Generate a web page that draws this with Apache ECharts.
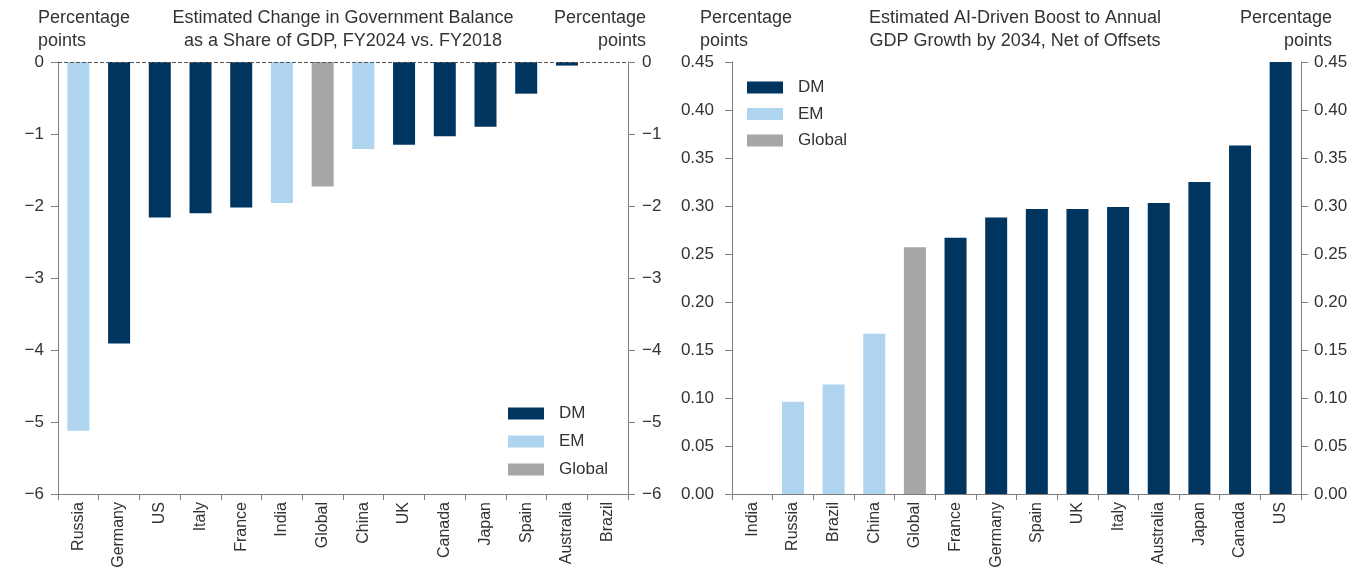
<!DOCTYPE html>
<html>
<head>
<meta charset="utf-8">
<script src="https://cdn.jsdelivr.net/npm/echarts@6/dist/echarts.min.js"></script>
<style>
html,body{margin:0;padding:0;background:#fff;}
#chart{width:1361px;height:579px;}
</style>
</head>
<body>
<div id="chart"></div>
<script>
// ---- Data ----
const leftCategories = ['Russia','Germany','US','Italy','France','India','Global','China','UK','Canada','Japan','Spain','Australia','Brazil'];
const leftValues     = [-5.12, -3.91, -2.16, -2.10, -2.02, -1.96, -1.73, -1.21, -1.15, -1.03, -0.90, -0.44, -0.05, 0];
const leftGroups     = ['EM','DM','DM','DM','DM','EM','Global','EM','DM','DM','DM','DM','DM','EM'];
const leftTicks      = [-6, -5, -4, -3, -2, -1, 0];

const rightCategories = ['India','Russia','Brazil','China','Global','France','Germany','Spain','UK','Italy','Australia','Japan','Canada','US'];
const rightValues     = [0, 0.096, 0.114, 0.167, 0.257, 0.267, 0.288, 0.297, 0.297, 0.299, 0.303, 0.325, 0.363, 0.45];
const rightGroups     = ['EM','EM','EM','EM','Global','DM','DM','DM','DM','DM','DM','DM','DM','DM'];
const rightTicks      = [0, 0.05, 0.10, 0.15, 0.20, 0.25, 0.30, 0.35, 0.40, 0.45];

const groupNames = ['DM','EM','Global'];
const leftTitle  = 'Estimated Change in Government Balance\nas a Share of GDP, FY2024 vs. FY2018';
const rightTitle = 'Estimated AI-Driven Boost to Annual\nGDP Growth by 2034, Net of Offsets';
const unitLabel  = 'Percentage\npoints';

// ---- Styles ----
const colors = {DM:'#00355F', EM:'#AED4F0', Global:'#A6A6A6'};
const FONT = 'Liberation Sans, Arial, sans-serif';
const axisColor = '#7F7F7F';
const textColor = '#333333';
const fs = 17;
const catFs = 16;
const titleFs = 18;

function buildSeries(values, groups, axisIdx, extra) {
  return groupNames.map((g, k) => {
    const s = {
      name: g, type: 'bar', xAxisIndex: axisIdx, yAxisIndex: axisIdx * 2,
      barWidth: 22, barGap: '-100%',
      itemStyle: {color: colors[g]},
      data: values.map((v, i) => groups[i] === g ? v : '-'),
      animation: false
    };
    if (k === 0 && extra) Object.assign(s, extra);
    return s;
  });
}

function yAxis(gridIndex, pos, ticks, fmt, margin) {
  const iv = +(ticks[1] - ticks[0]).toFixed(4);
  return {
    type: 'value', gridIndex, position: pos,
    min: ticks[0], max: ticks[ticks.length - 1], interval: iv,
    axisLine: {show: true, lineStyle: {color: axisColor, width: 1}},
    axisTick: {show: true, length: 7, lineStyle: {color: axisColor}},
    splitLine: {show: false},
    axisLabel: {color: textColor, fontSize: fs, fontFamily: FONT, margin: margin, formatter: fmt}
  };
}

function xAxis(gridIndex, cats) {
  return {
    type: 'category', gridIndex, data: cats, position: 'bottom',
    axisLine: {show: true, onZero: false, lineStyle: {color: axisColor, width: 1}},
    axisTick: {show: true, length: 6, lineStyle: {color: axisColor}},
    axisLabel: {rotate: 90, color: textColor, fontSize: catFs, fontFamily: FONT, margin: 8, interval: 0}
  };
}

const leftFmt  = v => (v < 0 ? '\u2212' + Math.abs(v) : String(v));
const rightFmt = v => v.toFixed(2);

const txt = (text, x, y, align) => ({
  type: 'text', x, y,
  style: {text, fill: textColor, font: titleFs + 'px ' + FONT, textAlign: align, textVerticalAlign: 'top', lineHeight: 23}
});

const legendBase = {
  data: groupNames, orient: 'vertical', itemWidth: 36, itemHeight: 12, padding: 0,
  icon: 'rect', selectedMode: false,
  textStyle: {color: textColor, fontSize: fs, fontFamily: FONT, padding: [0, 0, 0, 10]}
};

const option = {
  animation: false,
  grid: [
    {left: 58, right: 733, top: 62, bottom: 85},
    {left: 732, right: 60, top: 62, bottom: 85}
  ],
  xAxis: [xAxis(0, leftCategories), xAxis(1, rightCategories)],
  yAxis: [
    yAxis(0, 'left', leftTicks, leftFmt, 14),
    yAxis(0, 'right', leftTicks, leftFmt, 14),
    yAxis(1, 'left', rightTicks, rightFmt, 18),
    yAxis(1, 'right', rightTicks, rightFmt, 13)
  ],
  legend: [
    Object.assign({}, legendBase, {left: 508, top: 405, itemGap: 11}),
    Object.assign({}, legendBase, {left: 747, top: 79, itemGap: 9.5})
  ],
  graphic: [
    txt(unitLabel, 38, 7, 'left'),
    txt(leftTitle, 343, 7, 'center'),
    txt(unitLabel, 646, 7, 'right'),
    txt(unitLabel, 700, 7, 'left'),
    txt(rightTitle, 1015, 7, 'center'),
    txt(unitLabel, 1332, 7, 'right')
  ],
  series: [
    ...buildSeries(leftValues, leftGroups, 0, {
      markLine: {silent: true, symbol: 'none', label: {show: false},
        lineStyle: {type: 'dashed', color: '#555', width: 1},
        data: [{yAxis: 0}]}
    }),
    ...buildSeries(rightValues, rightGroups, 1)
  ]
};

const chart = echarts.init(document.getElementById('chart'), null, {renderer: 'canvas'});
chart.setOption(option);
</script>
</body>
</html>
